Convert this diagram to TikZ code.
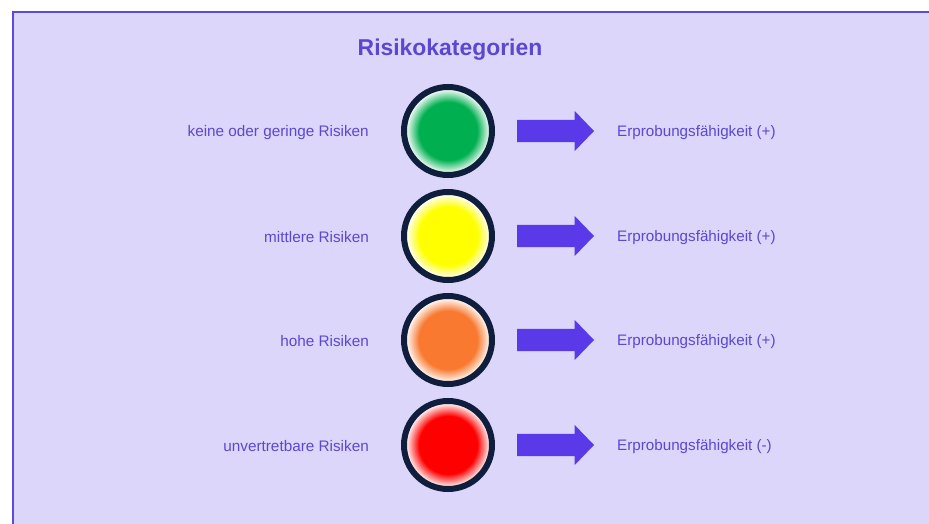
\documentclass[tikz,border=0pt]{standalone}
\usepackage{fontspec}
\setmainfont{Liberation Sans}
\usetikzlibrary{shapes.arrows}
\definecolor{bgv}{HTML}{DCD6FA}
\definecolor{framev}{HTML}{5B4BDB}
\definecolor{txtv}{HTML}{5B48D0}
\definecolor{arrv}{HTML}{5A3AE8}
\definecolor{ringv}{HTML}{0F1E3C}
\definecolor{lgreen}{HTML}{00B050}
\definecolor{lyellow}{HTML}{FFFF00}
\definecolor{lorange}{HTML}{F8792F}
\definecolor{lred}{HTML}{FF0000}
\pgfdeclareradialshading{shgreen}{\pgfpoint{0bp}{0bp}}{color(0bp)=(lgreen); color(16.5bp)=(lgreen); color(24bp)=(white); color(25bp)=(white); color(50bp)=(white)}
\pgfdeclareradialshading{shyellow}{\pgfpoint{0bp}{0bp}}{color(0bp)=(lyellow); color(16.5bp)=(lyellow); color(24bp)=(white); color(25bp)=(white); color(50bp)=(white)}
\pgfdeclareradialshading{shorange}{\pgfpoint{0bp}{0bp}}{color(0bp)=(lorange); color(16.5bp)=(lorange); color(24bp)=(white); color(25bp)=(white); color(50bp)=(white)}
\pgfdeclareradialshading{shred}{\pgfpoint{0bp}{0bp}}{color(0bp)=(lred); color(16.5bp)=(lred); color(24bp)=(white); color(25bp)=(white); color(50bp)=(white)}
\tikzset{
  lamp/.style={circle, draw=ringv, line width=6pt, minimum size=88pt, inner sep=0pt, outer sep=0pt, shading=#1},
  lbl/.style={text=txtv, font=\fontsize{15.3}{18}\selectfont, inner sep=0pt, anchor=east},
  res/.style={text=txtv, font=\fontsize{15.2}{18}\selectfont, inner sep=0pt, anchor=west},
  blockarrow/.style={single arrow, fill=arrv, draw=none, minimum width=40pt, minimum height=77pt, single arrow head extend=9pt, single arrow tip angle=92, inner xsep=0pt, inner ysep=11pt, outer sep=0pt, anchor=west}
}
\begin{document}
\begin{tikzpicture}[x=1pt,y=1pt]
\useasboundingbox (0,0) rectangle (929,523);
\fill[white] (0,0) rectangle (929,523);
\begin{scope}
\clip (0,0) rectangle (929,523);
\draw[fill=bgv, draw=framev, line width=2pt] (13,-10) rectangle (945,511);
\end{scope}
\node[text=txtv, font=\fontsize{22.9}{26}\selectfont\bfseries] (title) at (450,473) {Risikokategorien};
\foreach \i/\y/\sh/\a/\b in {1/392/shgreen/keine oder geringe Risiken/Erprobungsfähigkeit (+),
                              2/287/shyellow/mittlere Risiken/Erprobungsfähigkeit (+),
                              3/183/shorange/hohe Risiken/Erprobungsfähigkeit (+),
                              4/78/shred/unvertretbare Risiken/Erprobungsfähigkeit (-)}{
  \node[lamp=\sh] (c\i) at (448,\y) {};
  \node[lbl] (l\i) at (369,\y-1.5) {\a};
  \node[blockarrow] (a\i) at (517,\y) {};
  \node[res] (r\i) at (617,\y-1.5) {\b};
}
\end{tikzpicture}
\end{document}
